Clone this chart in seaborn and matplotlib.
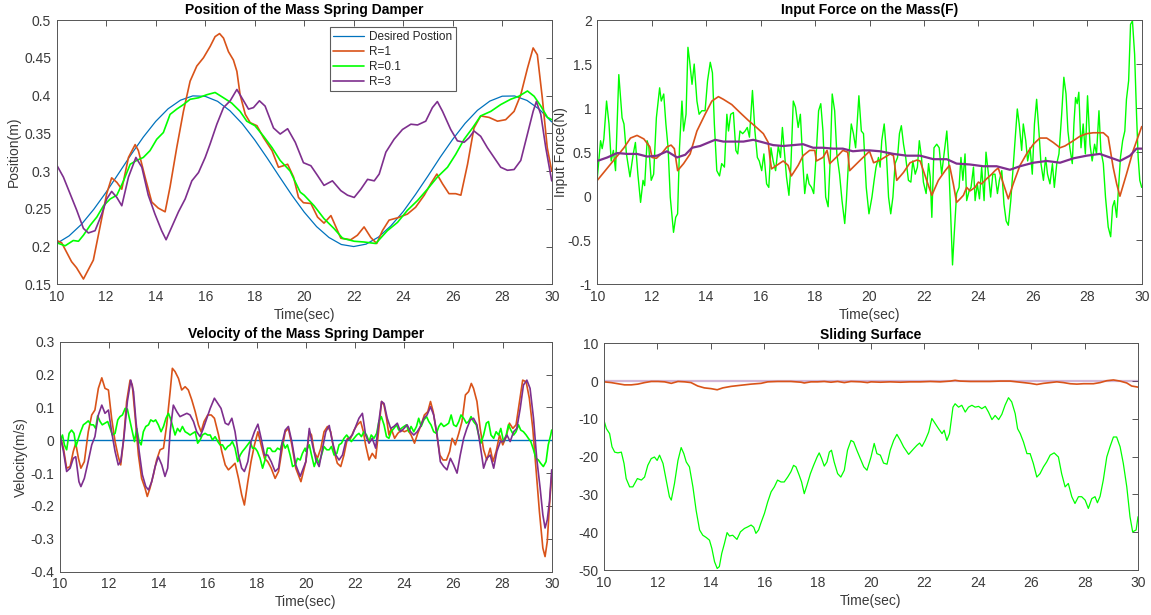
import numpy as np
import pandas as pd
import matplotlib
matplotlib.use("Agg")
import matplotlib.pyplot as plt
import seaborn as sns

# ---------------- data ----------------
pos_desired = [(10, .2041), (10.5, .2141), (11, .2294), (11.5, .2494), (12, .2721), (12.5, .2967),
               (13, .3215), (13.5, .3450), (14, .3657), (14.5, .3824), (15, .3938), (15.5, .3995),
               (16, .3989), (16.5, .3923), (17, .3798), (17.5, .3625), (18, .3412), (18.5, .3174),
               (19, .2925), (19.5, .2681), (20, .2456), (20.5, .2264), (21, .2120), (21.5, .2027),
               (22, .2000), (22.5, .2032), (23, .2125), (23.5, .2273), (24, .2463), (24.5, .2691),
               (25, .2934), (25.5, .3185), (26, .3420), (26.5, .3631), (27, .3804), (27.5, .3926),
               (28, .3991), (28.5, .3994), (29, .3935), (29.5, .3818), (30, .3650)]

pos_r1 = [(10, .208), (10.2, .205), (10.6, .180), (10.8, .172), (11.08, .157), (11.48, .182),
          (11.75, .226), (12.02, .270), (12.22, .291), (12.43, .285), (12.63, .276), (12.9, .318),
          (13.17, .335), (13.3, .327), (13.57, .292), (13.84, .259), (14.1, .251), (14.38, .246),
          (14.58, .279), (14.85, .331), (15.12, .379), (15.39, .419), (15.66, .439), (15.93, .450),
          (16.2, .465), (16.4, .478), (16.58, .482), (16.74, .476), (16.94, .458), (17.14, .447),
          (17.28, .432), (17.41, .401), (17.62, .375), (17.82, .364), (18.09, .360), (18.36, .344),
          (18.7, .327), (18.96, .305), (19.16, .307), (19.33, .309), (19.57, .292), (19.77, .265),
          (19.97, .258), (20.27, .257), (20.54, .239), (20.8, .231), (21.08, .241), (21.28, .226),
          (21.48, .211), (21.88, .209), (22.15, .215), (22.42, .226), (22.69, .212), (22.93, .204),
          (23.16, .221), (23.43, .235), (23.77, .238), (24.17, .243), (24.5, .252), (24.85, .268),
          (25.11, .283), (25.36, .296), (25.59, .283), (25.85, .270), (26.12, .270), (26.33, .268),
          (26.6, .309), (26.86, .357), (27.13, .373), (27.47, .371), (27.81, .366), (28.14, .368),
          (28.48, .379), (28.75, .401), (29.02, .436), (29.25, .463), (29.42, .454), (29.62, .397),
          (29.82, .331), (30, .300)]

pos_r01 = [(10, .205), (10.34, .201), (10.67, .208), (10.88, .207), (11.08, .215), (11.35, .228),
           (11.62, .239), (11.89, .254), (12.16, .263), (12.43, .268), (12.7, .287), (12.97, .309),
           (13.23, .314), (13.5, .318), (13.77, .327), (14.04, .342), (14.31, .351), (14.58, .375),
           (14.85, .382), (15.12, .388), (15.39, .395), (15.73, .397), (16.06, .401), (16.4, .404),
           (16.74, .397), (17.07, .390), (17.41, .379), (17.68, .366), (18.01, .360), (18.36, .346),
           (18.7, .331), (19.03, .314), (19.43, .300), (19.84, .272), (20.0, .268), (20.4, .254),
           (20.8, .237), (21.2, .224), (21.55, .211), (22.02, .207), (22.42, .206), (22.89, .204),
           (23.36, .221), (23.77, .232), (24.17, .248), (24.58, .261), (24.98, .276), (25.38, .292),
           (25.79, .305), (26.12, .322), (26.46, .342), (26.8, .357), (27.13, .373), (27.54, .379),
           (27.94, .388), (28.34, .395), (28.67, .399), (29.02, .406), (29.29, .399), (29.56, .386),
           (29.83, .371), (30, .368)]

pos_r3 = [(10, .308), (10.27, .292), (10.54, .270), (10.81, .248), (11.08, .224), (11.28, .218),
          (11.55, .221), (11.82, .243), (12.02, .263), (12.22, .273), (12.43, .265), (12.63, .254),
          (12.9, .292), (13.2, .318), (13.44, .305), (13.7, .268), (13.97, .243), (14.24, .221),
          (14.42, .209), (14.65, .226), (14.92, .246), (15.19, .263), (15.46, .287), (15.73, .298),
          (16.0, .318), (16.2, .336), (16.47, .362), (16.74, .384), (17.01, .393), (17.28, .408),
          (17.48, .397), (17.75, .382), (17.95, .384), (18.19, .393), (18.42, .386), (18.76, .357),
          (19.03, .349), (19.33, .356), (19.64, .338), (19.97, .311), (20.27, .307), (20.54, .294),
          (20.8, .281), (21.14, .287), (21.48, .274), (21.75, .268), (22.02, .265), (22.29, .276),
          (22.56, .289), (22.83, .287), (23.03, .296), (23.3, .325), (23.63, .342), (23.97, .355),
          (24.31, .362), (24.58, .361), (24.91, .366), (25.18, .384), (25.38, .392), (25.59, .379),
          (25.92, .355), (26.19, .340), (26.46, .338), (26.66, .344), (26.86, .353), (27.13, .346),
          (27.4, .331), (27.67, .318), (27.94, .305), (28.21, .301), (28.48, .302), (28.75, .314),
          (29.02, .349), (29.25, .379), (29.38, .392), (29.56, .375), (29.76, .331), (30, .287)]

force_r01 = [(10, .21), (10.12, .63), (10.18, .54), (10.24, .65), (10.34, 1.08), (10.43, .82),
             (10.51, .40), (10.59, .52), (10.67, .29), (10.79, 1.38), (10.91, .89), (10.98, .82),
             (11.07, .48), (11.2, .22), (11.32, .48), (11.4, .61), (11.49, .25), (11.59, -.07),
             (11.68, .18), (11.74, .12), (11.83, .63), (11.89, .57), (11.98, .18), (12.07, .25),
             (12.17, .89), (12.29, 1.23), (12.35, 1.08), (12.44, 1.16), (12.52, .82), (12.6, .55),
             (12.68, -.01), (12.8, -.41), (12.88, -.24), (12.95, -.20), (13.02, .55), (13.11, 1.08),
             (13.17, .74), (13.26, .93), (13.33, 1.69), (13.39, 1.54), (13.48, 1.27), (13.56, 1.50),
             (13.66, 1.08), (13.74, .93), (13.84, .97), (13.96, .97), (14.05, 1.31), (14.15, 1.52),
             (14.23, 1.40), (14.3, .82), (14.39, .29), (14.49, .23), (14.57, .37), (14.67, .33),
             (14.76, .93), (14.82, .74), (14.9, .93), (15.0, .95), (15.09, .52), (15.16, .48),
             (15.24, .74), (15.34, .71), (15.43, .74), (15.51, .78), (15.59, .67), (15.7, 1.20),
             (15.79, .74), (15.88, .44), (15.95, .40), (16.04, .29), (16.12, .48), (16.22, .14),
             (16.3, .10), (16.38, .55), (16.46, .40), (16.55, .29), (16.65, .57), (16.73, .44),
             (16.8, .78), (16.89, .44), (16.95, .22), (17.04, .01), (17.11, .33), (17.2, 1.08),
             (17.28, 1.01), (17.38, .78), (17.46, .93), (17.56, .33), (17.62, .03), (17.71, .25),
             (17.78, .14), (17.87, .10), (17.95, .03), (18.05, .52), (18.13, .97), (18.21, 1.05),
             (18.29, .74), (18.39, -.01), (18.48, -.12), (18.56, .44), (18.63, 1.16), (18.72, .97),
             (18.8, .48), (18.9, .25), (18.99, -.05), (19.09, -.31), (19.15, -.05), (19.23, .40),
             (19.33, .82), (19.41, .71), (19.49, .55), (19.61, 1.14), (19.7, .74), (19.78, .71),
             (19.88, .10), (19.98, -.20), (20.09, -.01), (20.17, .18), (20.24, .33), (20.33, .44),
             (20.39, .33), (20.45, .63), (20.54, .82), (20.61, .55), (20.7, -.01), (20.78, -.20),
             (20.86, -.01), (20.94, .37), (21.03, .44), (21.1, .71), (21.17, .80), (21.25, .59),
             (21.33, .44), (21.43, .18), (21.52, .16), (21.59, .40), (21.68, .25), (21.76, .33),
             (21.83, .63), (21.91, .44), (21.98, .16), (22.08, .03), (22.17, .37), (22.23, .22),
             (22.29, -.24), (22.37, .55), (22.47, .59), (22.56, .55), (22.65, .25), (22.74, .48),
             (22.84, .74), (22.91, .40), (22.98, -.20), (23.05, -.78), (23.12, -.39), (23.2, .03),
             (23.29, .10), (23.36, .44), (23.43, .18), (23.51, .48), (23.57, -.05), (23.66, .06),
             (23.73, .10), (23.82, .33), (23.88, -.05), (23.96, .14), (24.04, -.03), (24.12, .33),
             (24.21, -.05), (24.28, .50), (24.37, .25), (24.45, -.01), (24.53, .25), (24.61, .25),
             (24.7, .03), (24.77, .18), (24.86, .29), (24.94, -.09), (25.02, -.28), (25.1, -.33),
             (25.19, -.05), (25.26, .25), (25.35, .63), (25.43, .99), (25.5, .82), (25.59, .52),
             (25.65, .82), (25.74, .63), (25.81, .40), (25.9, .55), (25.98, .25), (26.06, .82),
             (26.14, 1.10), (26.23, .71), (26.3, .37), (26.39, .18), (26.47, .44), (26.54, .25),
             (26.63, .14), (26.72, .37), (26.79, .10), (26.88, .37), (26.96, .48), (27.06, .93),
             (27.14, 1.35), (27.22, 1.16), (27.29, .74), (27.36, .55), (27.45, .37), (27.51, .82),
             (27.57, 1.12), (27.63, 1.05), (27.69, 1.18), (27.77, .55), (27.85, .82), (27.93, .48),
             (28.01, 1.14), (28.1, .59), (28.18, .40), (28.27, .59), (28.34, .48), (28.43, .97),
             (28.5, .52), (28.59, .37), (28.67, -.01), (28.77, -.35), (28.86, -.46), (28.93, -.12),
             (29.0, -.05), (29.08, -.24), (29.15, .10), (29.22, .44), (29.3, .63), (29.38, .74),
             (29.44, 1.10), (29.52, 1.31), (29.59, 1.95), (29.66, 1.99), (29.74, 1.61), (29.81, .93),
             (29.87, .44), (29.93, .18), (30.0, .10)]

force_r1 = [(10, .18), (10.98, .55), (11.22, .66), (11.46, .69), (11.71, .65), (11.93, .56),
            (12.01, .44), (12.17, .43), (12.38, .49), (12.56, .56), (12.71, .58), (12.83, .54),
            (12.95, .29), (13.17, .37), (13.41, .48), (13.66, .74), (13.96, .93), (14.21, 1.08),
            (14.45, 1.13), (14.63, 1.10), (14.94, 1.04), (15.24, .95), (15.55, .86), (15.85, .78),
            (16.1, .71), (16.28, .61), (16.34, .44), (16.4, .31), (16.59, .35), (16.83, .40),
            (17.01, .35), (17.13, .23), (17.38, .35), (17.56, .46), (17.8, .52), (17.99, .52),
            (18.05, .40), (18.29, .44), (18.44, .52), (18.54, .37), (18.84, .46), (19.02, .52),
            (19.2, .50), (19.27, .29), (19.63, .40), (20.0, .51), (20.15, .38), (20.39, .41),
            (20.76, .48), (20.88, .46), (21.0, .18), (21.25, .27), (21.49, .38), (21.74, .41),
            (21.86, .40), (22.1, .18), (22.29, .01), (22.53, .18), (22.78, .29), (22.94, .35),
            (23.08, .14), (23.2, -.07), (23.33, -.03), (23.45, .01), (23.57, .10), (23.69, .06),
            (23.88, .10), (24.0, .16), (24.12, .14), (24.31, .20), (24.49, .25), (24.61, .29),
            (24.73, .32), (24.92, .14), (25.1, -.03), (25.28, .14), (25.53, .35), (25.77, .48),
            (26.02, .59), (26.26, .66), (26.51, .66), (26.75, .61), (27.0, .55), (27.18, .57),
            (27.49, .63), (27.73, .68), (27.98, .71), (28.22, .72), (28.59, .72), (28.77, .67),
            (28.95, .33), (29.08, .14), (29.2, .0), (29.44, .25), (29.69, .52), (30.0, .79)]

force_r3 = [(10, .40), (10.37, .44), (10.73, .49), (11.1, .48), (11.46, .48), (11.83, .45),
            (12.2, .46), (12.56, .51), (12.93, .44), (13.23, .47), (13.48, .55), (13.78, .57),
            (14.09, .61), (14.33, .64), (14.63, .62), (15.0, .62), (15.37, .62), (15.73, .64),
            (16.1, .61), (16.46, .58), (16.83, .57), (17.2, .58), (17.56, .59), (17.93, .55),
            (18.29, .55), (18.66, .54), (19.02, .54), (19.39, .51), (19.76, .52), (20.0, .52),
            (20.39, .51), (20.88, .48), (21.37, .46), (21.86, .46), (22.35, .42), (22.84, .42),
            (23.2, .37), (23.69, .36), (24.18, .34), (24.67, .34), (25.16, .30), (25.53, .34),
            (26.02, .38), (26.51, .40), (27.0, .38), (27.49, .43), (27.98, .46), (28.46, .48),
            (28.83, .44), (29.2, .40), (29.57, .46), (29.81, .54), (30.0, .54)]

vel_desired = [(10, 0.0), (30, 0.0)]

vel_r1 = [(10, .016), (10.14, -.024), (10.27, -.085), (10.41, -.080), (10.54, -.034), (10.64, -.009),
          (10.75, -.055), (10.85, -.085), (10.99, -.065), (11.15, .026), (11.29, .077), (11.42, .092),
          (11.56, .158), (11.7, .190), (11.83, .158), (11.97, .153), (12.1, .067), (12.24, -.004),
          (12.37, -.050), (12.47, -.075), (12.58, -.004), (12.71, .118), (12.85, .183), (12.94, .168),
          (13.05, .077), (13.19, -.045), (13.32, -.116), (13.46, -.146), (13.55, -.171), (13.66, -.146),
          (13.8, -.105), (13.93, -.060), (14.07, -.029), (14.21, -.024), (14.34, .047), (14.48, .148),
          (14.57, .219), (14.68, .209), (14.82, .188), (14.95, .153), (15.09, .163), (15.22, .153),
          (15.36, .123), (15.5, .087), (15.63, .047), (15.74, .026), (15.86, .057), (16.01, .077),
          (16.15, .077), (16.28, .067), (16.45, .016), (16.58, -.034), (16.72, -.075), (16.85, -.090),
          (16.99, -.080), (17.12, -.070), (17.26, -.116), (17.39, -.166), (17.5, -.197), (17.64, -.126),
          (17.77, -.065), (17.91, -.014), (18.05, .026), (18.18, -.014), (18.32, -.055), (18.45, -.065),
          (18.59, -.085), (18.75, -.116), (18.89, -.095), (19.02, -.034), (19.16, .026), (19.29, .036),
          (19.43, -.014), (19.59, -.085), (19.8, -.126), (20.0, -.065), (20.14, .026), (20.23, .016),
          (20.34, -.034), (20.47, -.055), (20.61, -.024), (20.74, .026), (20.88, .042), (21.01, .026),
          (21.15, -.034), (21.28, -.070), (21.42, -.080), (21.55, -.045), (21.69, .006), (21.82, .006),
          (21.96, .031), (22.09, .047), (22.23, .057), (22.34, .026), (22.43, -.014), (22.57, -.060),
          (22.7, -.040), (22.84, -.055), (22.97, .036), (23.08, .118), (23.18, .107), (23.28, .067),
          (23.38, .016), (23.47, .036), (23.61, .006), (23.74, .021), (23.88, .031), (24.01, .026),
          (24.15, .031), (24.28, .016), (24.42, -.009), (24.55, .021), (24.69, .047), (24.82, .077),
          (24.96, .087), (25.07, .118), (25.18, .087), (25.31, .026), (25.45, -.045), (25.58, -.060),
          (25.72, -.060), (25.85, -.034), (25.95, .006), (26.08, -.014), (26.22, .021), (26.35, .057),
          (26.49, .138), (26.62, .148), (26.73, .173), (26.82, .158), (26.96, .118), (27.09, .036),
          (27.23, -.029), (27.36, -.060), (27.5, -.024), (27.61, -.065), (27.74, -.034), (27.88, .016),
          (28.01, -.014), (28.15, .011), (28.28, .052), (28.42, .036), (28.55, .047), (28.69, .118),
          (28.82, .183), (28.96, .178), (29.09, .128), (29.23, .036), (29.36, -.085), (29.5, -.217),
          (29.64, -.328), (29.73, -.354), (29.82, -.308), (29.91, -.197), (30.0, -.105)]

vel_r3 = [(10, .016), (10.14, -.034), (10.27, -.095), (10.41, -.085), (10.54, -.055), (10.64, -.050),
          (10.77, -.126), (10.85, -.141), (10.99, -.116), (11.13, -.070), (11.29, -.014), (11.42, .011),
          (11.56, .077), (11.7, .107), (11.83, .082), (11.97, .092), (12.1, .026), (12.24, -.034),
          (12.37, -.075), (12.47, -.065), (12.61, .016), (12.74, .118), (12.88, .183), (12.99, .148),
          (13.09, .057), (13.22, -.034), (13.35, -.105), (13.49, -.141), (13.6, -.151), (13.73, -.126),
          (13.87, -.080), (14.0, -.050), (14.14, -.075), (14.27, -.110), (14.38, -.085), (14.48, .026),
          (14.61, .107), (14.75, .087), (14.88, .072), (15.02, .077), (15.16, .082), (15.29, .077),
          (15.43, .057), (15.56, .026), (15.7, .011), (15.83, .036), (15.97, .067), (16.11, .097),
          (16.28, .128), (16.42, .112), (16.55, .097), (16.72, .052), (16.85, .047), (16.99, .067),
          (17.12, .026), (17.26, -.045), (17.39, -.085), (17.5, -.095), (17.64, -.065), (17.77, -.004),
          (17.91, .026), (18.05, .049), (18.18, .006), (18.32, -.045), (18.45, -.045), (18.59, -.065),
          (18.75, -.095), (18.89, -.085), (19.02, -.014), (19.16, .031), (19.29, .042), (19.43, -.004),
          (19.59, -.075), (19.77, -.110), (20.0, -.065), (20.14, .036), (20.27, -.014), (20.41, -.060),
          (20.54, -.080), (20.68, -.024), (20.81, .026), (20.95, .045), (21.08, -.004), (21.22, -.045),
          (21.35, -.060), (21.49, -.045), (21.62, -.004), (21.76, .006), (21.89, .016), (22.03, .042),
          (22.16, .067), (22.3, .082), (22.43, .016), (22.57, -.009), (22.7, .006), (22.84, -.024),
          (22.97, .057), (23.08, .118), (23.18, .112), (23.31, .067), (23.45, .036), (23.58, .042),
          (23.72, .052), (23.85, .026), (23.99, .036), (24.12, .047), (24.26, .026), (24.39, .016),
          (24.53, .026), (24.66, .042), (24.8, .067), (24.93, .077), (25.07, .102), (25.2, .077),
          (25.34, .016), (25.47, -.065), (25.61, -.080), (25.74, -.090), (25.88, -.055), (26.01, -.075),
          (26.15, -.100), (26.28, -.045), (26.42, .006), (26.55, .036), (26.69, .062), (26.82, .067),
          (26.96, .047), (27.09, -.014), (27.23, -.085), (27.36, -.055), (27.5, -.045), (27.64, -.085),
          (27.77, -.034), (27.91, -.004), (28.04, -.004), (28.18, .016), (28.31, -.004), (28.45, .026),
          (28.58, .036), (28.72, .097), (28.85, .168), (28.99, .183), (29.12, .158), (29.26, .067),
          (29.39, -.055), (29.53, -.146), (29.64, -.227), (29.73, -.267), (29.82, -.242), (29.91, -.186),
          (30.0, -.090)]

vel_r01 = [(10, -.004), (10.1, .016), (10.18, -.014), (10.27, -.029), (10.37, .021), (10.47, .031),
           (10.57, .021), (10.65, -.019), (10.75, .006), (10.84, .026), (10.95, .047), (11.04, .052),
           (11.15, .059), (11.26, .047), (11.36, .047), (11.45, .036), (11.53, .074), (11.63, .057),
           (11.72, .047), (11.83, .052), (11.94, .057), (12.04, .036), (12.13, .016), (12.24, .021),
           (12.35, .062), (12.44, .072), (12.54, .077), (12.65, .097), (12.74, .095), (12.85, .057),
           (12.94, .026), (13.03, -.004), (13.12, .036), (13.22, -.004), (13.3, -.014), (13.39, .026),
           (13.49, .042), (13.6, .047), (13.69, .062), (13.8, .057), (13.89, .062), (14.0, .047),
           (14.11, .026), (14.21, .042), (14.31, .067), (14.41, .082), (14.48, .069), (14.57, .047),
           (14.68, .016), (14.78, .036), (14.88, .026), (14.98, .042), (15.09, .026), (15.2, .021),
           (15.29, .016), (15.39, .021), (15.5, .026), (15.6, -.009), (15.7, .001), (15.79, .016),
           (15.9, .021), (16.01, .016), (16.11, .016), (16.2, .001), (16.31, .011), (16.42, -.004),
           (16.51, -.014), (16.61, -.014), (16.72, -.029), (16.82, -.019), (16.92, -.014), (17.01, -.004),
           (17.12, -.024), (17.23, -.065), (17.33, -.045), (17.42, -.034), (17.53, -.024), (17.63, -.014),
           (17.73, -.004), (17.83, -.024), (17.94, -.024), (18.03, -.034), (18.14, -.055), (18.24, -.085),
           (18.34, -.060), (18.44, -.024), (18.55, -.024), (18.64, -.034), (18.75, -.034), (18.85, -.024),
           (18.96, -.029), (19.05, -.004), (19.16, -.024), (19.25, -.014), (19.36, -.045), (19.46, -.080),
           (19.57, -.075), (19.66, -.055), (19.77, -.060), (19.86, -.040), (19.97, -.024), (20.0, -.034),
           (20.14, -.014), (20.23, -.045), (20.34, -.080), (20.45, -.055), (20.54, -.070), (20.64, -.045),
           (20.74, -.019), (20.85, -.029), (20.95, -.029), (21.04, -.019), (21.15, -.045), (21.26, -.040),
           (21.35, -.014), (21.45, -.009), (21.55, .006), (21.66, .016), (21.76, .006), (21.85, -.004),
           (21.96, .006), (22.07, .016), (22.16, .021), (22.26, .011), (22.36, .026), (22.47, .016),
           (22.57, -.004), (22.66, .016), (22.77, .006), (22.88, .021), (22.97, .057), (23.07, .072),
           (23.18, .047), (23.28, .011), (23.38, .006), (23.47, .026), (23.58, .036), (23.69, .047),
           (23.78, .031), (23.88, .036), (23.99, .042), (24.09, .047), (24.19, .026), (24.28, .042),
           (24.39, .026), (24.5, .042), (24.59, .067), (24.69, .042), (24.8, .062), (24.91, .072),
           (25.0, .057), (25.09, .047), (25.2, .026), (25.31, .021), (25.41, .042), (25.5, .052),
           (25.61, .042), (25.72, .047), (25.81, .052), (25.91, .077), (26.01, .047), (26.12, .042),
           (26.22, .057), (26.31, .077), (26.42, .067), (26.53, .052), (26.62, .057), (26.72, .072),
           (26.82, .057), (26.93, .047), (27.03, .016), (27.12, -.009), (27.23, .016), (27.34, .052),
           (27.43, .057), (27.53, .016), (27.64, .006), (27.74, .026), (27.84, .016), (27.93, .036),
           (28.04, -.004), (28.15, .016), (28.24, .047), (28.34, .031), (28.45, .016), (28.55, .026),
           (28.65, .047), (28.74, .031), (28.85, .026), (28.96, .016), (29.05, .006), (29.15, -.004),
           (29.26, -.029), (29.36, -.055), (29.46, -.060), (29.55, -.070), (29.66, -.080), (29.77, -.065),
           (29.86, -.014), (29.96, .016), (30.0, .031)]

slide_r01 = [(10, -10.4), (10.09, -12.6), (10.21, -13.9), (10.3, -17.4), (10.4, -18.8), (10.52, -19.0),
             (10.65, -18.8), (10.75, -21.8), (10.83, -25.8), (10.96, -28.0), (11.08, -28.0), (11.25, -25.8),
             (11.4, -26.2), (11.52, -25.4), (11.64, -22.3), (11.77, -20.5), (11.89, -20.1), (11.99, -21.0),
             (12.08, -19.6), (12.21, -21.8), (12.33, -26.2), (12.45, -30.6), (12.52, -31.5), (12.64, -27.1),
             (12.77, -21.0), (12.89, -17.6), (12.99, -19.2), (13.08, -21.4), (13.2, -22.7), (13.33, -28.0),
             (13.45, -34.2), (13.58, -39.4), (13.7, -40.8), (13.83, -41.4), (13.95, -42.1), (14.04, -44.3),
             (14.14, -47.8), (14.24, -49.6), (14.32, -49.1), (14.41, -45.6), (14.51, -43.0), (14.61, -40.1),
             (14.7, -41.0), (14.82, -40.8), (14.98, -41.9), (15.11, -39.9), (15.26, -39.0), (15.38, -38.6),
             (15.51, -38.1), (15.61, -38.7), (15.69, -40.3), (15.79, -39.4), (15.88, -37.5), (16.01, -35.0),
             (16.13, -32.0), (16.26, -29.3), (16.38, -28.0), (16.5, -26.2), (16.63, -26.7), (16.75, -26.7),
             (16.88, -25.4), (17.0, -24.0), (17.1, -22.3), (17.19, -22.7), (17.31, -24.9), (17.4, -26.7),
             (17.5, -29.8), (17.6, -27.6), (17.73, -24.5), (17.85, -22.3), (17.98, -20.1), (18.06, -19.0),
             (18.15, -20.5), (18.25, -22.5), (18.35, -21.4), (18.44, -18.8), (18.52, -18.3), (18.62, -21.4),
             (18.75, -24.5), (18.87, -25.4), (19.0, -23.6), (19.12, -18.3), (19.25, -15.7), (19.35, -16.1),
             (19.47, -18.3), (19.6, -20.5), (19.73, -22.7), (19.85, -23.6), (20.0, -20.1), (20.12, -16.5),
             (20.22, -19.2), (20.35, -19.6), (20.47, -21.7), (20.6, -22.0), (20.72, -18.3), (20.85, -15.7),
             (20.97, -14.1), (21.1, -15.7), (21.22, -17.4), (21.41, -19.4), (21.6, -17.9), (21.72, -17.0),
             (21.82, -16.4), (21.91, -17.3), (22.03, -15.7), (22.16, -13.5), (22.28, -9.9), (22.41, -11.3),
             (22.53, -12.6), (22.66, -13.9), (22.74, -13.0), (22.84, -15.7), (22.94, -13.9), (23.07, -6.9),
             (23.15, -6.0), (23.28, -6.9), (23.4, -6.4), (23.53, -8.2), (23.65, -6.9), (23.78, -6.4),
             (23.9, -6.9), (24.03, -6.7), (24.15, -7.3), (24.28, -6.7), (24.4, -8.2), (24.53, -10.2),
             (24.65, -9.1), (24.78, -10.2), (24.9, -8.8), (25.02, -6.4), (25.15, -4.4), (25.27, -5.5),
             (25.4, -8.6), (25.49, -12.6), (25.59, -13.9), (25.71, -16.1), (25.84, -19.2), (25.96, -19.2),
             (26.08, -21.8), (26.21, -25.4), (26.33, -24.5), (26.46, -22.7), (26.58, -21.4), (26.71, -19.6),
             (26.86, -19.0), (27.02, -20.1), (27.14, -24.5), (27.27, -28.0), (27.39, -27.1), (27.52, -30.6),
             (27.64, -32.4), (27.77, -30.6), (27.89, -30.6), (28.02, -31.5), (28.14, -33.7), (28.27, -31.1),
             (28.39, -30.6), (28.48, -32.2), (28.58, -30.5), (28.7, -26.2), (28.83, -20.1), (28.95, -17.4),
             (29.08, -14.8), (29.2, -14.8), (29.33, -17.4), (29.45, -21.8), (29.58, -28.0), (29.7, -35.9),
             (29.8, -39.9), (29.93, -39.4), (30.0, -35.9)]

slide_r1 = [(10, -0.2), (10.27, -0.4), (10.52, -0.7), (10.77, -1.0), (11.02, -1.0), (11.27, -0.8),
            (11.52, -0.4), (11.77, -0.1), (12.02, -0.1), (12.27, -0.2), (12.52, -0.6), (12.77, -0.1),
            (13.02, -0.2), (13.26, -0.4), (13.51, -1.3), (13.76, -1.8), (14.01, -2.0), (14.24, -2.3),
            (14.45, -1.8), (14.76, -1.4), (15.13, -1.1), (15.51, -0.8), (15.88, -0.6), (16.13, -0.2),
            (16.5, -0.1), (17.0, -0.1), (17.38, -0.3), (17.5, -0.5), (17.75, -0.2), (18.0, -0.2),
            (18.25, -0.1), (18.5, -0.3), (18.75, -0.1), (19.0, -0.4), (19.25, -0.1), (19.62, -0.2),
            (19.87, -0.4), (20.0, -0.2), (20.35, -0.3), (20.72, -0.2), (21.1, -0.3), (21.47, -0.2),
            (21.85, -0.2), (22.22, -0.1), (22.59, -0.2), (22.97, 0.0), (23.15, 0.2), (23.34, 0.0),
            (23.72, -0.1), (24.09, -0.1), (24.46, -0.1), (24.84, 0.0), (25.21, 0.0), (25.46, -0.2),
            (25.71, -0.4), (25.96, -0.6), (26.21, -0.9), (26.46, -0.6), (26.71, -0.4), (26.96, -0.2),
            (27.21, -0.4), (27.46, -0.7), (27.71, -0.8), (27.96, -0.7), (28.33, -0.7), (28.58, -0.4),
            (28.83, 0.1), (29.08, 0.3), (29.33, 0.0), (29.58, -0.5), (29.76, -1.3), (30.0, -1.6)]

slide_r3 = [(10, 0.0), (30, 0.0)]

# tick labels
x_ticks = [10, 12, 14, 16, 18, 20, 22, 24, 26, 28, 30]
pos_ticks = [0.15, 0.2, 0.25, 0.3, 0.35, 0.4, 0.45, 0.5]
pos_labels = ["0.15", "0.2", "0.25", "0.3", "0.35", "0.4", "0.45", "0.5"]
force_ticks = [-1, -0.5, 0, 0.5, 1, 1.5, 2]
force_labels = ["-1", "-0.5", "0", "0.5", "1", "1.5", "2"]
vel_ticks = [-0.4, -0.3, -0.2, -0.1, 0, 0.1, 0.2, 0.3]
vel_labels = ["-0.4", "-0.3", "-0.2", "-0.1", "0", "0.1", "0.2", "0.3"]
slide_ticks = [-50, -40, -30, -20, -10, 0, 10]
slide_labels = ["-50", "-40", "-30", "-20", "-10", "0", "10"]

# ---------------- style ----------------
sns.set_theme(style="white")
plt.rcParams["font.family"] = ["Liberation Sans", "DejaVu Sans"]

C_BLUE = "#0072BD"
C_ORANGE = "#D95319"
C_GREEN = "#00FF00"
C_PURPLE = "#7E2F8E"
AX_COL = "#3a3a3a"

W, H = 1151, 615
fig = plt.figure(figsize=(W / 100, H / 100), dpi=100)
fig.patch.set_facecolor("white")


def axes_px(l, t, r, b):
    return fig.add_axes([l / W, 1 - b / H, (r - l) / W, (b - t) / H])


ax_pos = axes_px(56.7, 20, 551.7, 284.3)
ax_force = axes_px(597.3, 20, 1141.7, 284.3)
ax_vel = axes_px(60, 341.7, 551.7, 571.7)
ax_slide = axes_px(604, 343.3, 1138, 570)


def draw(ax, pairs, color, lw=1.0, label=None, alpha=1.0):
    arr = np.array(pairs, dtype=float)
    df = pd.DataFrame({"t": arr[:, 0], "v": arr[:, 1]})
    sns.lineplot(data=df, x="t", y="v", ax=ax, color=color, linewidth=lw,
                 label=label, alpha=alpha, estimator=None, sort=False, legend=False)


def style(ax, yticks, ylabels, ylim, title, xlabel=None, ylabel=None, tpad=4, ylpad=2):
    ax.set_xlim(10, 30)
    ax.set_ylim(*ylim)
    ax.set_xticks(x_ticks)
    ax.set_xticklabels([str(v) for v in x_ticks])
    ax.set_yticks(yticks)
    ax.set_yticklabels(ylabels)
    ax.tick_params(direction="in", top=True, right=True, length=4, width=0.6,
                   colors=AX_COL, labelsize=10, pad=4)
    for sp in ax.spines.values():
        sp.set_color("#555555")
        sp.set_linewidth(0.7)
    ax.set_title(title, fontsize=10, fontweight="bold", color="black", pad=tpad)
    ax.set_xlabel(xlabel if xlabel else "", fontsize=10, color=AX_COL, labelpad=3)
    ax.set_ylabel(ylabel if ylabel else "", fontsize=10, color=AX_COL, labelpad=ylpad)
    ax.set_facecolor("white")


# Position
draw(ax_pos, pos_desired, C_BLUE, 0.9, "Desired Postion")
draw(ax_pos, pos_r1, C_ORANGE, 1.2, "R=1")
draw(ax_pos, pos_r01, C_GREEN, 1.2, "R=0.1")
draw(ax_pos, pos_r3, C_PURPLE, 1.2, "R=3")
style(ax_pos, pos_ticks, pos_labels, (0.15, 0.5), "Position of the Mass Spring Damper",
      "Time(sec)", "Position(m)")
leg = ax_pos.legend(handles=ax_pos.get_lines(),
                    labels=["Desired Postion", "R=1", "R=0.1", "R=3"],
                    loc="upper left", bbox_to_anchor=(0.552, 0.972), borderaxespad=0,
                    fontsize=8.5, frameon=True, fancybox=False, handlelength=2.6,
                    handletextpad=0.4, borderpad=0.3, labelspacing=0.25)
leg.get_frame().set_edgecolor("#333333")
leg.get_frame().set_linewidth(0.8)

# Force
draw(ax_force, force_r01, C_GREEN, 1.0)
draw(ax_force, force_r1, C_ORANGE, 1.2)
draw(ax_force, force_r3, C_PURPLE, 1.6)
style(ax_force, force_ticks, force_labels, (-1, 2), "Input Force on the Mass(F)",
      "Time(sec)", "Input Force(N)", ylpad=0)

# Velocity
draw(ax_vel, vel_desired, C_BLUE, 1.0)
draw(ax_vel, vel_r1, C_ORANGE, 1.2)
draw(ax_vel, vel_r01, C_GREEN, 1.2)
draw(ax_vel, vel_r3, C_PURPLE, 1.2)
style(ax_vel, vel_ticks, vel_labels, (-0.4, 0.3), "Velocity of the Mass Spring Damper",
      "Time(sec)", "Velocity(m/s)", tpad=3)

# Sliding surface
draw(ax_slide, slide_r3, C_PURPLE, 1.6, alpha=0.35)
draw(ax_slide, slide_r1, C_ORANGE, 1.2)
draw(ax_slide, slide_r01, C_GREEN, 0.9)
style(ax_slide, slide_ticks, slide_labels, (-50, 10), "Sliding Surface", "Time(sec)", None, tpad=3)

fig.savefig("out.png", dpi=100, facecolor="white")
